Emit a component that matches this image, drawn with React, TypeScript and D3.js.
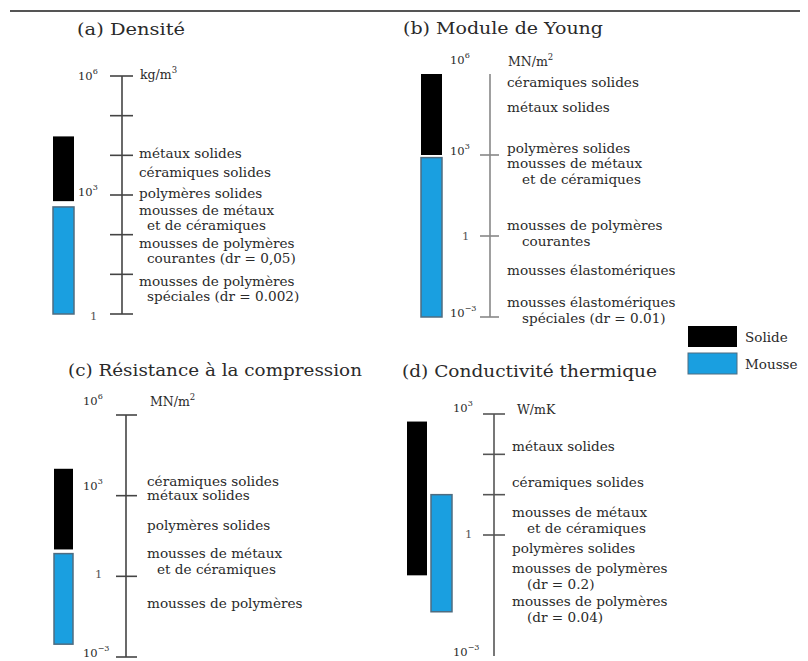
import React from "react";
import * as d3 from "d3";

// ---------- DATA ----------
const legendItems = ["Solide", "Mousse"];

// (a) Densité (kg/m³)
const densiteSolide = [700, 30000];
const densiteMousse = [1, 500];
const densiteTicks = [1, 10, 100, 1e3, 1e4, 1e5, 1e6];
const densiteTickLabels = [1e6, 1e3, 1];
const densiteLabels = [
  { v: 11500, lines: ["métaux solides"] },
  { v: 3800, lines: ["céramiques solides"] },
  { v: 1100, lines: ["polymères solides"] },
  { v: 420, lines: ["mousses de métaux", "et de céramiques"] },
  { v: 62, lines: ["mousses de polymères", "courantes (dr = 0,05)"] },
  { v: 6.8, lines: ["mousses de polymères", "spéciales (dr = 0.002)"] },
];

// (b) Module de Young (MN/m²)
const youngSolide = [1e3, 1e6];
const youngMousse = [1e-3, 800];
const youngTicks = [1e-3, 1, 1e3];
const youngTickLabels = [1e6, 1e3, 1, 1e-3];
const youngLabels = [
  { v: 500000, lines: ["céramiques solides"] },
  { v: 60000, lines: ["métaux solides"] },
  { v: 1800, lines: ["polymères solides"] },
  { v: 500, lines: ["mousses de métaux", "et de céramiques"] },
  { v: 2.6, lines: ["mousses de polymères", "courantes"] },
  { v: 0.055, lines: ["mousses élastomériques"] },
  { v: 0.0036, lines: ["mousses élastomériques", "spéciales (dr = 0.01)"] },
];

// (c) Résistance à la compression (MN/m²)
const compSolide = [10, 10000];
const compMousse = [0.003, 7];
const compTicks = [1e-3, 1, 1e3, 1e6];
const compTickLabels = [1e6, 1e3, 1, 1e-3];
const compLabels = [
  { v: 3500, lines: ["céramiques solides"] },
  { v: 1000, lines: ["métaux solides"] },
  { v: 80, lines: ["polymères solides"] },
  { v: 7.4, lines: ["mousses de métaux", "et de céramiques"] },
  { v: 0.1, lines: ["mousses de polymères"] },
];

// (d) Conductivité thermique (W/mK)
const condSolide = [0.1, 650];
const condMousse = [0.0125, 10];
const condTicks = [1, 10, 100, 1000];
const condTickLabels = [1e3, 1, 1e-3];
const condLabels = [
  { v: 160, lines: ["métaux solides"] },
  { v: 20, lines: ["céramiques solides"] },
  { v: 3.7, lines: ["mousses de métaux", "et de céramiques"] },
  { v: 0.48, lines: ["polymères solides"] },
  { v: 0.15, lines: ["mousses de polymères", "(dr = 0.2)"] },
  { v: 0.023, lines: ["mousses de polymères", "(dr = 0.04)"] },
];

// ---------- STYLE ----------
const SERIF = "'DejaVu Serif', 'Liberation Serif', serif";
const BLUE = "#1a9fe0";
const BLUE_EDGE = "#4f6c80";
const TEXT = "#2a2a2a";
const LABEL_SIZE = 13.6;

type Lab = { v: number; lines: string[] };

interface PanelProps {
  title: string;
  titleX: number;
  titleY: number;
  titleLen: number;
  unit: string;
  unitSup?: string;
  unitX: number;
  unitY: number;
  domain: [number, number];
  yRange: [number, number];
  axisX: number;
  axisTop: number;
  axisColor: string;
  tickL: number;
  tickR: number;
  ticks: number[];
  tickLabels: number[];
  tickLabelX: number;
  tickLabelYOffset: (v: number) => number;
  bars: { x: number; w: number; range: number[]; color: string; edge?: string }[];
  labels: Lab[];
  labelX: number;
  lineGap: number;
  indent: number;
}

function TickLabel({ v, x, y }: { v: number; x: number; y: number }) {
  const e = Math.round(Math.log10(v));
  if (e === 0) {
    return (
      <text x={x + 12} y={y} fontSize={11.5} fill="#555" fontFamily={SERIF} dy="0.35em">
        1
      </text>
    );
  }
  return (
    <text x={x} y={y} fontSize={11.5} fill={TEXT} fontFamily={SERIF} dy="0.35em">
      10
      <tspan dy={-6} fontSize={8}>
        {e < 0 ? "−" + Math.abs(e) : String(e)}
      </tspan>
    </text>
  );
}

function Panel(p: PanelProps) {
  const y = d3.scaleLog().domain(p.domain).range(p.yRange);
  const [yBottom] = p.yRange;
  return (
    <g>
      <text
        x={p.titleX}
        y={p.titleY}
        fontSize={17}
        fontFamily={SERIF}
        fill={TEXT}
        textLength={p.titleLen}
        lengthAdjust="spacingAndGlyphs"
      >
        {p.title}
      </text>
      <text x={p.unitX} y={p.unitY} fontSize={12.5} fontFamily={SERIF} fill={TEXT} dy="0.35em">
        {p.unit}
        {p.unitSup ? (
          <tspan dy={-6} fontSize={8.5}>
            {p.unitSup}
          </tspan>
        ) : null}
      </text>
      {p.bars.map((b, i) => (
        <rect
          key={i}
          x={b.x}
          width={b.w}
          y={y(b.range[1])}
          height={y(b.range[0]) - y(b.range[1])}
          fill={b.color}
          stroke={b.edge || "none"}
          strokeWidth={b.edge ? 1.5 : 0}
        />
      ))}
      <line
        x1={p.axisX}
        x2={p.axisX}
        y1={p.axisTop}
        y2={yBottom}
        stroke={p.axisColor}
        strokeWidth={1.6}
      />
      {p.ticks.map((t, i) => (
        <line
          key={i}
          x1={p.axisX - p.tickL}
          x2={p.axisX + p.tickR}
          y1={y(t)}
          y2={y(t)}
          stroke={p.axisColor}
          strokeWidth={1.6}
        />
      ))}
      {p.tickLabels.map((t, i) => (
        <TickLabel key={i} v={t} x={p.tickLabelX} y={y(t) + p.tickLabelYOffset(t)} />
      ))}
      {p.labels.map((l, i) => (
        <g key={i}>
          {l.lines.map((s, j) => (
            <text
              key={j}
              x={p.labelX + (j > 0 ? p.indent : 0)}
              y={y(l.v) + j * p.lineGap}
              dy="0.35em"
              fontSize={LABEL_SIZE}
              fontFamily={SERIF}
              fill={TEXT}
            >
              {s}
            </text>
          ))}
        </g>
      ))}
    </g>
  );
}

export default function App() {
  return (
    <svg width={800} height={653} style={{ display: "block" }}>
      <rect x={0} y={0} width={800} height={653} fill="#ffffff" />
      <line x1={2} x2={800} y1={3} y2={3} stroke="#555" strokeWidth={2} />

      <g transform="translate(-8,-8)">
        <Panel
          title="(a) Densité"
          titleX={77}
          titleY={35}
          titleLen={108}
          unit="kg/m"
          unitSup="3"
          unitX={140}
          unitY={75}
          domain={[1, 1e6]}
          yRange={[314, 76]}
          axisX={122}
          axisTop={76}
          axisColor="#444"
          tickL={12}
          tickR={11}
          ticks={densiteTicks}
          tickLabels={densiteTickLabels}
          tickLabelX={78}
          tickLabelYOffset={(v) => (v === 1 ? 2 : v === 1e3 ? -3 : 0)}
          bars={[
            { x: 53, w: 21, range: densiteSolide, color: "#000" },
            { x: 53, w: 21, range: densiteMousse, color: BLUE, edge: BLUE_EDGE },
          ]}
          labels={densiteLabels}
          labelX={139}
          lineGap={15.5}
          indent={8}
        />
        <Panel
          title="(b) Module de Young"
          titleX={403}
          titleY={34}
          titleLen={200}
          unit="MN/m"
          unitSup="2"
          unitX={508}
          unitY={62}
          domain={[1e-3, 1e6]}
          yRange={[317, 74]}
          axisX={490}
          axisTop={74}
          axisColor="#888"
          tickL={10}
          tickR={9}
          ticks={youngTicks}
          tickLabels={youngTickLabels}
          tickLabelX={450}
          tickLabelYOffset={(v) => (v === 1e6 ? -14 : v === 1e3 ? -4 : v === 1e-3 ? -4 : 0)}
          bars={[
            { x: 421, w: 21, range: youngSolide, color: "#000" },
            { x: 421, w: 21, range: youngMousse, color: BLUE, edge: BLUE_EDGE },
          ]}
          labels={youngLabels}
          labelX={507}
          lineGap={16.5}
          indent={15}
        />
        <Panel
          title="(c) Résistance à la compression"
          titleX={68}
          titleY={376}
          titleLen={294}
          unit="MN/m"
          unitSup="2"
          unitX={150}
          unitY={402}
          domain={[1e-3, 1e6]}
          yRange={[657, 415]}
          axisX={126}
          axisTop={415}
          axisColor="#444"
          tickL={10}
          tickR={11}
          ticks={compTicks}
          tickLabels={compTickLabels}
          tickLabelX={83}
          tickLabelYOffset={(v) => (v === 1e6 ? -14 : v === 1e3 ? -10 : v === 1e-3 ? -4 : -2)}
          bars={[
            { x: 54, w: 19, range: compSolide, color: "#000" },
            { x: 54, w: 19, range: compMousse, color: BLUE, edge: BLUE_EDGE },
          ]}
          labels={compLabels}
          labelX={147}
          lineGap={16}
          indent={10}
        />
        <Panel
          title="(d) Conductivité thermique"
          titleX={402}
          titleY={377}
          titleLen={255}
          unit="W/mK"
          unitX={517}
          unitY={410}
          domain={[1e-3, 1e3]}
          yRange={[656, 414]}
          axisX={494}
          axisTop={414}
          axisColor="#555"
          tickL={11}
          tickR={11}
          ticks={condTicks}
          tickLabels={condTickLabels}
          tickLabelX={453}
          tickLabelYOffset={(v) => (v === 1e3 ? -6 : v === 1e-3 ? -4 : -1)}
          bars={[
            { x: 407, w: 20, range: condSolide, color: "#000" },
            { x: 431, w: 21, range: condMousse, color: BLUE, edge: BLUE_EDGE },
          ]}
          labels={condLabels}
          labelX={512}
          lineGap={16}
          indent={15}
        />

        {legendItems.map((name, i) => (
          <g key={name}>
            <rect
              x={688}
              y={326 + i * 27}
              width={49}
              height={21}
              fill={i === 0 ? "#000" : BLUE}
              stroke={i === 0 ? "none" : BLUE_EDGE}
              strokeWidth={i === 0 ? 0 : 1}
            />
            <text
              x={745}
              y={337 + i * 27}
              dy="0.35em"
              fontSize={13.5}
              fontFamily={SERIF}
              fill={TEXT}
            >
              {name}
            </text>
          </g>
        ))}
      </g>
    </svg>
  );
}
